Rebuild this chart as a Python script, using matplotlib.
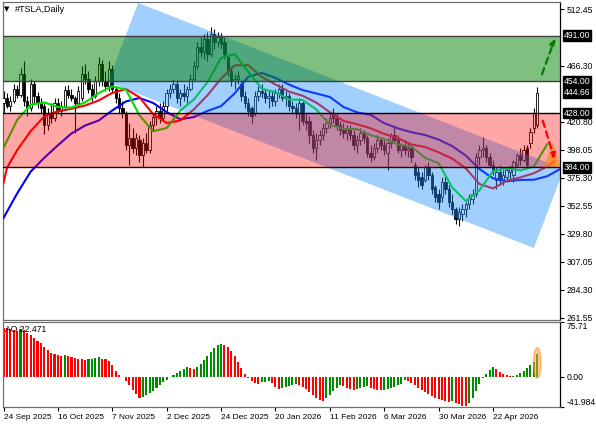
import matplotlib
matplotlib.use("Agg")
import matplotlib.pyplot as plt
from matplotlib.patches import Polygon, Ellipse, FancyArrowPatch
import numpy as np

plt.rcParams['font.family'] = ['Liberation Sans', 'DejaVu Sans']

# ---------------- data ----------------
dates = ["24 Sep 2025", "16 Oct 2025", "7 Nov 2025", "2 Dec 2025", "24 Dec 2025",
         "20 Jan 2026", "11 Feb 2026", "6 Mar 2026", "30 Mar 2026", "22 Apr 2026"]
date_bars = [0, 16, 32, 48, 64, 80, 96, 112, 128, 144]

opens = [436,440,434,438,448,443,460,438,432,452, 442,436,434,418,428,424,436,430,434,447,
         443,440,436,440,460,456,448,442,454,468, 454,450,464,448,440,432,428,402,408,400,
         406,394,404,398,418,425,430,424,434,444, 448,452,440,444,442,448,456,466,482,478,
         488,476,492,486,490,486,474,462,454,456, 452,442,436,432,428,442,446,444,440,442,
         438,444,448,440,442,434,432,428,436,422, 422,410,400,406,410,416,420,428,424,418,
         414,412,414,410,402,406,412,408,396,392, 400,406,402,396,404,410,406,398,402,398,
         400,386,380,376,374,384,378,368,362,360, 372,366,356,350,342,346,350,354,358,362,
         392,398,400,392,386,374,380,374,376,380, 378,386,394,390,400,404,416,418]
highs = [446,444,442,452,451,465,470,442,456,454, 445,440,436,432,436,440,440,438,450,451,
         448,442,450,466,468,462,452,458,474,471, 462,470,467,450,444,438,430,420,416,412,
         410,408,412,422,428,434,436,438,448,452, 456,455,448,452,450,460,470,486,490,492,
         494,498,496,494,493,490,476,466,460,462, 454,446,440,434,446,450,452,448,446,446,
         448,452,452,446,444,438,436,440,438,428, 426,414,412,414,420,424,428,432,428,422,
         420,418,418,414,410,416,414,410,402,404, 410,408,406,408,412,418,410,404,406,404,
         402,388,384,380,386,388,380,370,366,376, 378,370,362,352,352,354,356,362,366,396,
         402,409,402,396,390,384,386,382,384,386, 390,396,400,402,402,416,432,449]
lows = [428,432,430,436,440,441,434,426,430,436, 432,428,411,414,420,422,428,426,432,440,
        438,412,434,438,452,444,438,440,450,450, 446,446,444,436,428,424,398,386,396,394,
        388,384,396,396,414,418,420,422,430,440, 444,436,434,438,436,446,454,464,474,472,
        470,474,480,482,480,472,458,450,448,452, 438,432,426,420,426,438,440,436,432,434,
        434,440,438,434,430,428,424,414,418,414, 404,396,390,402,406,412,416,420,414,410,
        408,406,406,398,396,402,404,392,388,390, 396,398,394,382,400,404,396,392,394,392,
        388,374,368,366,372,374,362,356,350,356, 362,352,346,338,336,340,344,350,354,360,
        386,392,388,384,378,366,370,370,372,374, 372,384,386,388,384,400,412,416]
closes = [440,434,438,448,443,460,438,432,452,442, 436,432,418,428,424,436,430,434,447,443,
          440,436,446,460,456,448,442,454,468,454, 450,464,448,440,432,428,402,408,400,408,
          394,404,398,418,425,430,424,434,444,448, 452,440,444,442,448,456,466,482,478,488,
          476,492,486,490,484,476,462,454,456,458, 442,436,430,426,442,446,444,440,442,438,
          444,448,440,442,434,432,428,436,422,420, 410,400,406,410,416,420,424,424,418,414,
          412,414,410,402,406,412,408,396,392,400, 406,402,398,404,410,406,398,402,398,400,
          392,378,374,370,384,378,366,360,356,372, 366,356,350,342,348,350,354,360,362,392,
          398,400,392,386,382,380,374,378,382,384, 388,394,390,398,386,413,428,444.66]

# Alligator lines (read every 4 bars; jaw/teeth/lips shifted forward)
jaw_bars = list(range(0, 165, 4))
jaw_vals = [342.8,362.7,380.5,391.7,401.9,411.5,417.9,422.0,430.2,437.5,440.3,436.3,428.8,
            423.0,424.8,429.8,433.7,444.1,457.6,460.6,456.6,451.2,446.7,444.0,441.1,433.0,
            428.6,426.6,419.8,415.6,412.5,410.2,406.5,401.2,393.5,382.6,375.0,372.7,373.7,
            373.9,376.8,383.0]
teeth_bars = [0, 1] + list(range(4, 161, 4)) + [162]
teeth_vals = [371.2,383.4,397.9,413.4,425.4,429.5,431.5,434.2,438.3,444.4,447.6,440.9,427.2,
              420.0,422.0,431.1,442.5,456.1,466.8,467.0,457.4,451.3,445.5,442.1,436.6,428.7,
              421.7,419.0,415.7,411.1,407.6,402.5,400.5,396.2,391.0,383.1,370.4,366.8,373.0,
              375.8,379.1,384.8,389.0]
lips_bars = list(range(0, 161, 4))
lips_vals = [399.7,422.4,434.8,436.7,433.0,432.5,436.7,444.3,449.8,447.2,426.2,413.2,415.9,
             430.0,439.1,453.1,472.8,476.0,461.6,447.8,445.0,439.1,438.7,431.0,418.5,415.1,
             415.0,410.1,406.9,402.6,400.8,391.7,387.3,367.6,356.6,365.2,380.7,383.2,381.4,
             384.6,403.0]

# Awesome Oscillator
ao_vals = [68,67,66,65,63,66,64,61,58,54, 50,46,41,37,33,31,30,29,30,28,
           27,26,25,24,23,24,25,26,27,25, 24,22,16,8,3,-1,-6,-12,-18,-24,
           -29,-28,-26,-23,-20,-16,-12,-8,-4,-1, 2,5,8,11,13,12,11,14,18,23,
           28,34,40,44,45,44,41,36,29,20, 12,4,-2,-6,-9,-10,-8,-7,-6,-9,
           -14,-17,-15,-14,-13,-12,-10,-12,-14,-17, -21,-25,-29,-32,-33,-30,-25,-20,-15,-12,
           -13,-15,-17,-18,-17,-15,-14,-13,-15,-17, -18,-19,-18,-17,-15,-14,-12,-10,-5,-6,
           -9,-12,-15,-18,-21,-24,-27,-29,-31,-32, -33,-35,-34,-36,-38,-40,-41,-36,-29,-20,
           -10,-2,4,9,13,10,6,4,2,0.5, 1,3,5,8,12,16,20,31]

# Levels, channel and projections
green_zone = [454.0, 491.0]
red_zone = [384.0, 428.0]
last_price = 444.66
channel_bars = [39.6, 164.9, 156.0, 30.7]
channel_prices = [517.5, 382.6, 318.4, 453.3]
up_arrow_bars, up_arrow_prices = [158.1, 162.5], [457.4, 490.7]
dn_arrow_bars, dn_arrow_prices = [158.4, 162.3], [424.0, 388.5]
tri_bars = [159.0, 161.6, 163.7]
tri_prices = [384.5, 404.6, 384.5]

price_ticks = [261.55, 284.30, 307.05, 329.80, 352.55, 375.30, 398.05, 420.80, 466.30, 512.45]
ao_ticks = [75.71, 0.0, -41.984]

# ---------------- figure ----------------
W, H = 596, 425
fig = plt.figure(figsize=(W / 100, H / 100), dpi=100)

def rect(l, t, r, b):
    return [l / W, 1 - b / H, (r - l) / W, (b - t) / H]

ax = fig.add_axes(rect(3, 2, 560, 320))
ax2 = fig.add_axes(rect(3, 322, 560, 407))

opens_a, highs_a, lows_a, closes_a = map(np.array, (opens, highs, lows, closes))
x = np.arange(len(closes_a))
up = closes_a >= opens_a

ax.vlines(x, lows_a, highs_a, color='black', lw=0.8, zorder=2)
ax.bar(x, np.maximum(np.abs(closes_a - opens_a), 0.3), bottom=np.minimum(opens_a, closes_a),
       width=0.7, color=np.where(up, 'white', 'black'), edgecolor='black', lw=0.6, zorder=3)

ax.plot(jaw_bars, jaw_vals, color='#0000ff', lw=1.5, zorder=4)
ax.plot(teeth_bars, teeth_vals, color='#ff0000', lw=1.5, zorder=4)
ax.plot(lips_bars, lips_vals, color='#00e000', lw=1.5, zorder=4)

ax.add_patch(Polygon(list(zip(channel_bars, channel_prices)), closed=True,
                     facecolor=(0.12, 0.56, 1.0), alpha=0.42, lw=0, zorder=5))
ax.axhspan(green_zone[0], green_zone[1], color=(0, 0.5, 0), alpha=0.5, lw=0, zorder=6)
ax.axhspan(red_zone[0], red_zone[1], color=(1, 0, 0), alpha=0.35, lw=0, zorder=6)
for v, c in [(green_zone[1], '#404040'), (green_zone[0], '#404040'),
             (red_zone[1], '#000000'), (red_zone[0], '#300000')]:
    ax.axhline(v, color=c, lw=1.0, zorder=7)

ax.add_patch(Polygon(list(zip(tri_bars, tri_prices)), closed=True,
                     facecolor=(1, 0.55, 0.1), alpha=0.7, lw=0, zorder=8))
ax.add_patch(FancyArrowPatch((up_arrow_bars[0], up_arrow_prices[0]),
                             (up_arrow_bars[1], up_arrow_prices[1]),
                             arrowstyle='-|>', mutation_scale=8, color='#008000',
                             lw=1.6, linestyle=(0, (3, 2)), zorder=9))
ax.add_patch(FancyArrowPatch((dn_arrow_bars[0], dn_arrow_prices[0]),
                             (dn_arrow_bars[1], dn_arrow_prices[1]),
                             arrowstyle='-|>', mutation_scale=8, color='#ff0000',
                             lw=1.6, linestyle=(0, (3, 2)), zorder=9))

ax.set_xlim(-0.15, 163.7)
ax.set_ylim(259.9, 518.3)
ax.set_xticks([])
ax.yaxis.tick_right()
ax.set_yticks(price_ticks)
ax.set_yticklabels([f"{v:.2f}" for v in price_ticks])
ax.tick_params(axis='y', length=3, width=0.8, pad=2, labelsize=6.2, colors='black')

for v in [green_zone[1], green_zone[0], last_price, red_zone[1], red_zone[0]]:
    ax.annotate(f"{v:.2f}", xy=(1, v), xycoords=('axes fraction', 'data'),
                xytext=(2.5, 0), textcoords='offset points', ha='left', va='center',
                fontsize=6.2, color='white', zorder=20, annotation_clip=False,
                bbox=dict(boxstyle='square,pad=0.1', fc='black', ec='black'))

# ---------------- AO panel ----------------
ao = np.array(ao_vals, dtype=float)
ao_colors = ['#ff0000'] + ['#008c00' if ao[i] > ao[i - 1] else '#ff0000' for i in range(1, len(ao))]
ax2.bar(np.arange(len(ao)), ao, width=0.6, color=ao_colors, lw=0, zorder=2)
ax2.add_patch(Ellipse((157, 19), 2.2, 42, facecolor=(1, 0.6, 0.25), alpha=0.55,
                      edgecolor=(1, 0.55, 0.1), lw=1, zorder=3))
ax2.set_xlim(-0.15, 163.7)
ax2.set_ylim(-41.984, 75.71)
ax2.yaxis.tick_right()
ax2.set_yticks(ao_ticks)
ax2.set_yticklabels(['75.71', '0.00', '-41.984'])
ax2.tick_params(axis='y', length=3, width=0.8, pad=2, labelsize=6.2, colors='black')
ylabs = ax2.get_yticklabels()
ylabs[0].set_va('top')
ylabs[2].set_va('bottom')
ax2.set_xticks(date_bars)
ax2.set_xticklabels(dates, ha='left')
ax2.tick_params(axis='x', length=3, width=0.8, pad=2, labelsize=6.0, colors='black')
ax2.text(0.004, 0.97, 'AO 22.471', transform=ax2.transAxes, fontsize=6.2, va='top', ha='left', zorder=10)

for a in (ax, ax2):
    for s in a.spines.values():
        s.set_color('#707070')
        s.set_linewidth(0.9)
    a.spines['right'].set_color('black')

fig.text(4 / W, 1 - 9 / H, '\u25BC', fontsize=5, family='DejaVu Sans', va='center', ha='left')
fig.text(15 / W, 1 - 9 / H, '#TSLA,Daily', fontsize=6.5, va='center', ha='left')

fig.savefig('out.png', dpi=100)
